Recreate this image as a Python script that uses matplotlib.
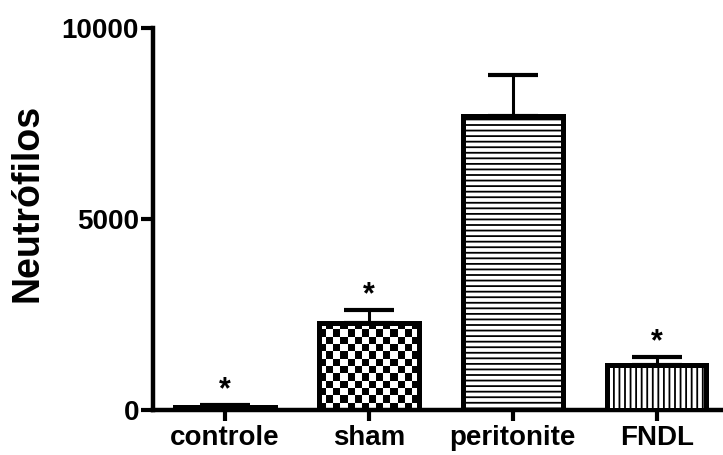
import matplotlib
matplotlib.use("Agg")
import matplotlib.pyplot as plt
import numpy as np

categories = ["controle", "sham", "peritonite", "FNDL"]
means = [80, 2280, 7690, 1170]
errors = [40, 340, 1090, 220]
significant = [True, True, False, True]
hatches = [None, "checker", "---", "|||"]
ylabel = "Neutrófilos"
yticks = [0, 5000, 10000]

plt.rcParams["font.family"] = ["Liberation Sans", "DejaVu Sans"]
plt.rcParams["font.weight"] = "bold"
plt.rcParams["hatch.linewidth"] = 1.3
plt.rcParams["hatch.color"] = "#333333"

fig = plt.figure(figsize=(7.23, 4.55), dpi=100)
ax = fig.add_axes([0.2116, 0.099, 0.7884, 0.8395])

x = np.arange(len(categories))
ax.set_xlim(-0.5, 3.46)
ax.set_ylim(0, 10000)

bar_w = 0.69
lw = 3.6
bars = ax.bar(x, means, width=bar_w, color="white", edgecolor="black",
              linewidth=lw, zorder=3)
for b, h in zip(bars, hatches):
    b.set_joinstyle("miter")
    if h == "checker":
        b.set_facecolor("none")
    elif h:
        b.set_hatch(h)

# checkerboard for sham
fig.canvas.draw()
for b, h in zip(bars, hatches):
    if h == "checker":
        x0, y0 = b.get_x(), b.get_y()
        x1, y1 = x0 + b.get_width(), y0 + b.get_height()
        p0 = ax.transData.transform((x0, y0))
        p1 = ax.transData.transform((x1, y1))
        sq = 7.0
        nx = max(1, int(round((p1[0] - p0[0]) / sq)))
        ny = max(1, int(round((p1[1] - p0[1]) / sq)))
        board = (np.indices((ny, nx)).sum(axis=0) % 2).astype(float)
        im = ax.imshow(board, cmap="gray", extent=(x0, x1, y0, y1),
                       aspect="auto", interpolation="nearest", zorder=2,
                       origin="lower", vmin=0, vmax=1)
        im.set_clip_path(b)
ax.set_xlim(-0.5, 3.46)
ax.set_ylim(0, 10000)

ax.errorbar(x, means, yerr=[np.zeros(len(means)), errors], fmt="none",
            ecolor="black", elinewidth=2.2, capsize=18, capthick=3.0, zorder=2.5)

for xi, m, e, s in zip(x, means, errors, significant):
    if s:
        ax.text(xi, m + e + 0, "*", ha="center", va="bottom",
                fontsize=22, fontweight="bold")

for sp in ["top", "right"]:
    ax.spines[sp].set_visible(False)
for sp in ["left", "bottom"]:
    ax.spines[sp].set_linewidth(3.2)
    ax.spines[sp].set_capstyle("projecting")

ax.set_yticks(yticks)
ax.set_yticklabels([str(t) for t in yticks], fontsize=20, fontweight="bold")
ax.set_xticks(x)
ax.set_xticklabels(categories, fontsize=20, fontweight="bold")
ax.tick_params(axis="y", length=9, width=3.0, pad=1)
ax.tick_params(axis="x", length=8, width=3.0, pad=3)
ax.set_ylabel(ylabel, fontsize=27, fontweight="bold")
ax.yaxis.set_label_coords(-0.221, 0.542)
ax.yaxis.label.set_va("center")

fig.savefig("out.png", dpi=100)
